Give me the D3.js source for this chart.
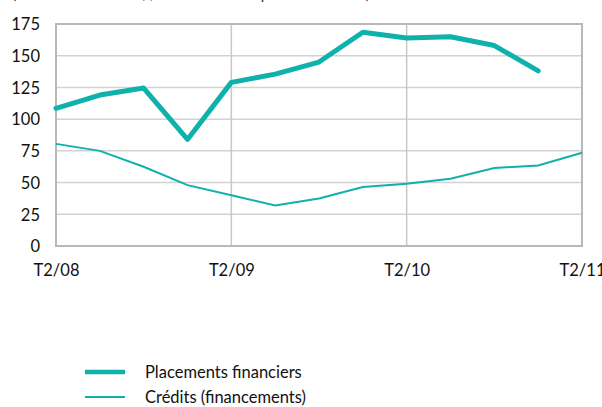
<!DOCTYPE html>
<html><head><meta charset="utf-8">
<script src="https://cdn.jsdelivr.net/npm/d3@7"></script>
<style>body{margin:0;background:#fff}svg{display:block}text{font-family:Lato,"Open Sans",sans-serif;fill:#111}</style>
</head><body><svg id="c" width="602" height="407"></svg>
<script>
const quarters = ["T2/08","T3/08","T4/08","T1/09","T2/09","T3/09","T4/09","T1/10","T2/10","T3/10","T4/10","T1/11","T2/11"];
const placements = [108.5,119,124.5,84,129,135.5,145,168.5,164,165,158,138];
const credits = [80.5,75,62.5,48,40,32,37.5,46.5,49,53,61.5,63.5,73.5];
const yTicks = [0,25,50,75,100,125,150,175];
const xLabels = ["T2/08","T2/09","T2/10","T2/11"];
const seriesNames = ["Placements financiers","Crédits (financements)"];
const color = "#0fb2ab";

const svg = d3.select("#c");
const m = {l:56, r:582, t:24, b:246};
const x = d3.scalePoint().domain(quarters).range([m.l, m.r]);
const y = d3.scaleLinear().domain([0,175]).range([m.b, m.t]);

svg.append("text").attr("x",13).attr("y",-1.5).style("font-style","italic").style("font-size","15.5px")
  .style("fill","#333").text("(en milliards d'euros ; flux cumulés sur quatre trimestres)");

const g = svg.append("g");
g.selectAll(".hg").data(yTicks.slice(1,-1)).join("line")
  .attr("x1",m.l).attr("x2",m.r).attr("y1",d=>y(d)).attr("y2",d=>y(d))
  .attr("stroke","#d2d2d2").attr("stroke-width",1.5);
g.selectAll(".vg").data(xLabels.slice(1,-1)).join("line")
  .attr("x1",d=>x(d)).attr("x2",d=>x(d)).attr("y1",m.t).attr("y2",m.b)
  .attr("stroke","#c8c8c8").attr("stroke-width",1.5);
g.append("rect").attr("x",m.l).attr("y",m.t).attr("width",m.r-m.l).attr("height",m.b-m.t)
  .attr("fill","none").attr("stroke","#b8b8b8").attr("stroke-width",2);

const yAxis = d3.axisLeft(y).tickValues(yTicks).tickSize(0).tickPadding(0);
const ya = svg.append("g").attr("transform",`translate(40,0)`).call(yAxis);
ya.select(".domain").remove();
ya.selectAll("text").style("font-size","16.5px").attr("fill","#111").attr("dy","0.35em").attr("font-family",null);

const xAxis = d3.axisBottom(x).tickValues(xLabels).tickSize(0).tickPadding(0);
const xa = svg.append("g").attr("transform",`translate(0,264.5)`).call(xAxis);
xa.select(".domain").remove();
xa.selectAll("text").style("font-size","16.5px").attr("fill","#111").attr("dy","0.71em").attr("font-family",null);

const line = d3.line().x((d,i)=>x(quarters[i])).y(d=>y(d));
svg.append("path").datum(credits).attr("d",line).attr("fill","none").attr("stroke",color).attr("stroke-width",2);
svg.append("path").datum(placements).attr("d",line).attr("fill","none").attr("stroke",color)
  .attr("stroke-width",5).attr("stroke-linejoin","round").attr("stroke-linecap","round");

const leg = [{n:seriesNames[0],w:4.5,y:372},{n:seriesNames[1],w:2,y:397}];
const lg = svg.append("g");
leg.forEach(d=>{
  lg.append("line").attr("x1",85).attr("x2",125).attr("y1",d.y).attr("y2",d.y).attr("stroke",color).attr("stroke-width",d.w);
  lg.append("text").attr("x",145).attr("y",d.y+6).style("font-size","16.5px").text(d.n);
});
</script></body></html>
